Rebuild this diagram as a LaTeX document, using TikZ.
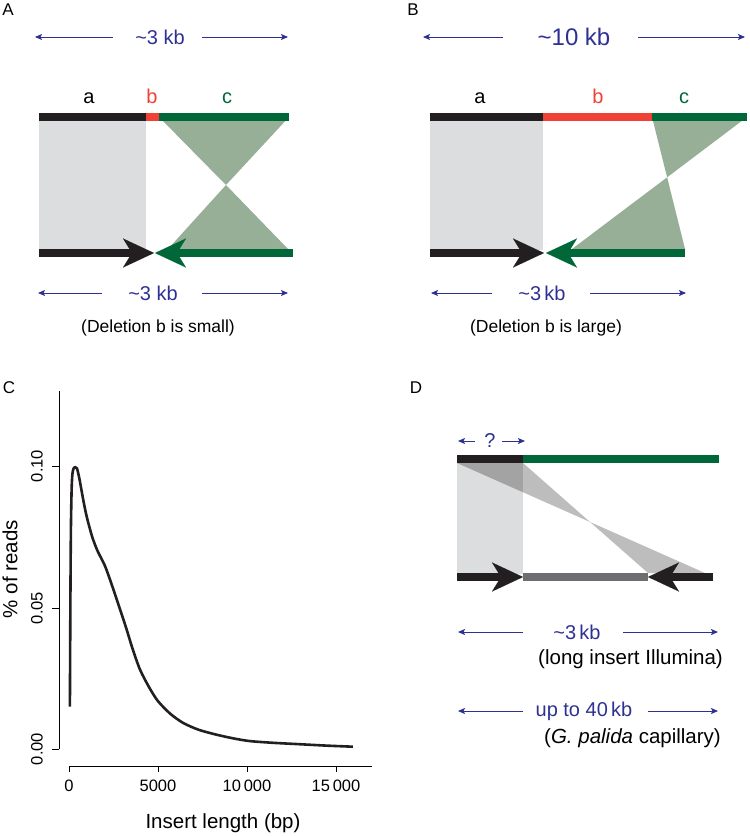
\documentclass[tikz,border=0pt]{standalone}
\usepackage{fontspec}
\setmainfont{Liberation Sans}
\usetikzlibrary{arrows.meta}
\definecolor{navy}{HTML}{2E3192}
\definecolor{barblack}{HTML}{231F20}
\definecolor{delred}{HTML}{EF4136}
\definecolor{dgreen}{HTML}{006838}
\definecolor{sage}{HTML}{97AE97}
\definecolor{lgray}{HTML}{DCDDDE}
\definecolor{mgray}{HTML}{6D6E71}
\tikzset{
  panellabel/.style={font=\fontsize{17}{20}\selectfont, inner sep=0},
  dimtext/.style={text=navy, font=\fontsize{20}{24}\selectfont, inner sep=0},
  bigdimtext/.style={text=navy, font=\fontsize{24}{28}\selectfont, inner sep=0},
  captext/.style={font=\fontsize{17.5}{21}\selectfont, inner sep=0},
  captextD/.style={font=\fontsize{20.5}{24}\selectfont, inner sep=0},
  seglabel/.style={font=\fontsize{20}{24}\selectfont, inner sep=0, anchor=base},
  dimarrow/.style={draw=navy, line width=0.9pt, -{Stealth[length=7pt,width=6pt,inset=1.5pt]}},
  bar/.style={line width=8pt},
  bigtip/.style={-{Stealth[length=31pt,width=29pt,inset=9pt,line width=0.01pt]}},
  ticklabel/.style={font=\fontsize{16.5}{20}\selectfont, inner sep=0},
  axislabel/.style={font=\fontsize{20.5}{24}\selectfont, inner sep=0},
}
\begin{document}
\begin{tikzpicture}[x=1pt,y=-1pt]
\useasboundingbox (0,0) rectangle (750,836);

% ================= Panel A =================
\node[panellabel] (labA) at (8,10) {A};
\node[dimtext] (tA1) at (160,37) {\char`\~3 kb};
\coordinate (a1l0) at (113,37); \coordinate (a1l1) at (35,37);
\coordinate (a1r0) at (202,37); \coordinate (a1r1) at (288,37);
\draw[dimarrow] (a1l0) -- (a1l1);
\draw[dimarrow] (a1r0) -- (a1r1);

\node[seglabel] (Aa) at (89,103) {a};
\node[seglabel, text=delred] (Ab) at (152,103) {b};
\node[seglabel, text=dgreen] (Ac) at (227,103) {c};

\coordinate (A0) at (39,117); \coordinate (A1) at (146,117);
\coordinate (A2) at (159,117); \coordinate (A3) at (289,117);
\coordinate (Ax) at (226,185);
\coordinate (B0) at (39,253); \coordinate (Bt) at (154,253);
\coordinate (Bg0) at (293,253); \coordinate (Bgt) at (155,253);
\coordinate (Btl) at (168,249); \coordinate (Btr) at (288,249);

\fill[lgray] (39,119) rectangle (146,250);
\fill[sage] (A2) -- (A3) -- (Ax) -- cycle;
\fill[sage] (Ax) -- (Btl) -- (Btr) -- cycle;
\draw[bar, barblack] (A0) -- (A1);
\draw[bar, delred] (A1) -- (A2);
\draw[bar, dgreen] (A2) -- (A3);
\draw[bar, barblack, bigtip] (B0) -- (Bt);
\draw[bar, dgreen, bigtip] (Bg0) -- (Bgt);

\node[dimtext] (tA2) at (153,293) {\char`\~3 kb};
\coordinate (a2l0) at (102,293); \coordinate (a2l1) at (38,293);
\coordinate (a2r0) at (202,293); \coordinate (a2r1) at (288,293);
\draw[dimarrow] (a2l0) -- (a2l1);
\draw[dimarrow] (a2r0) -- (a2r1);
\node[captext] (capA) at (158,328) {(Deletion b is small)};

% ================= Panel B =================
\node[panellabel] (labB) at (413,10) {B};
\node[bigdimtext] (tB1) at (574,37) {\char`\~10 kb};
\coordinate (b1l0) at (503,37); \coordinate (b1l1) at (423,37);
\coordinate (b1r0) at (638,37); \coordinate (b1r1) at (745,37);
\draw[dimarrow] (b1l0) -- (b1l1);
\draw[dimarrow] (b1r0) -- (b1r1);

\node[seglabel] (Ba) at (480,103) {a};
\node[seglabel, text=delred] (Bb) at (598,103) {b};
\node[seglabel, text=dgreen] (Bc) at (684,103) {c};

\coordinate (C0) at (430,117); \coordinate (C1) at (543,117);
\coordinate (C2) at (652,117); \coordinate (C3) at (747,117);
\coordinate (D0) at (430,253); \coordinate (Dt) at (544,253);
\coordinate (Dg0) at (685,253); \coordinate (Dgt) at (546,253);
\coordinate (Dtl) at (572,249); \coordinate (Dtr) at (685,249);
\coordinate (Bx) at (intersection of C2--Dtr and C3--Dtl);

\fill[lgray] (430,119) rectangle (543,250);
\fill[sage] (C2) -- (C3) -- (Bx) -- cycle;
\fill[sage] (Bx) -- (Dtl) -- (Dtr) -- cycle;
\draw[bar, barblack] (C0) -- (C1);
\draw[bar, delred] (C1) -- (C2);
\draw[bar, dgreen] (C2) -- (C3);
\draw[bar, barblack, bigtip] (D0) -- (Dt);
\draw[bar, dgreen, bigtip] (Dg0) -- (Dgt);

\node[dimtext] (tB2) at (542,293) {\char`\~3\,kb};
\coordinate (b2l0) at (492,293); \coordinate (b2l1) at (431,293);
\coordinate (b2r0) at (590,293); \coordinate (b2r1) at (686,293);
\draw[dimarrow] (b2l0) -- (b2l1);
\draw[dimarrow] (b2r0) -- (b2r1);
\node[captext] (capB) at (546,328) {(Deletion b is large)};

% ================= Panel C =================
\node[panellabel] (labC) at (9,388) {C};
\coordinate (yax0) at (59,391); \coordinate (yax1) at (59,749);
\draw[line width=1pt] (yax0) -- (yax1);
\foreach \yy/\lab in {466/0.10, 608/0.05, 749/0.00}{
  \draw[line width=1pt] (59,\yy) -- (52,\yy);
  \node[ticklabel, rotate=90] at (37,\yy) {\lab};
}
\node[axislabel, rotate=90] (ylab) at (10,569) {\% of reads};
\coordinate (xax0) at (69,766); \coordinate (xax1) at (372,766);
\draw[line width=1pt] (xax0) -- (xax1);
\foreach \xx/\lab in {69/0, 158/5000, 247/10\,000, 336/15\,000}{
  \draw[line width=1pt] (\xx,766) -- (\xx,772);
  \node[ticklabel] at (\xx,786) {\lab};
}
\node[axislabel] (xlab) at (223,823) {Insert length (bp)};

\draw[line width=2.6pt, line join=round, barblack] plot[smooth, tension=0.45] coordinates {
(69.9,706.5) (70.4,600) (70.9,530) (71.6,490) (72.4,474) (73.6,468.4) (75.0,467)
(77.0,468.4) (79.6,479.8) (83.2,499.6) (86.7,516.6) (92.1,536.5) (97.4,550.6)
(104.5,564.8) (109.8,579) (116.9,599.9) (122.2,615.8) (126.8,630) (132.9,649.8)
(140.0,669.6) (148.8,686.7) (157.7,700.8) (170.1,713.6) (183.1,722.9) (198.5,729.7)
(217.0,734.8) (234.0,738.5) (250.0,741.1) (273.0,742.8) (299.6,744.2) (326.2,745.6)
(352.8,746.7)};

% ================= Panel D =================
\node[panellabel] (labD) at (416,388) {D};
\node[dimtext] (tq) at (490,441) {?};
\coordinate (ql0) at (475,441); \coordinate (ql1) at (458,441);
\coordinate (qr0) at (502,441); \coordinate (qr1) at (525,441);
\draw[dimarrow] (ql0) -- (ql1);
\draw[dimarrow] (qr0) -- (qr1);

\coordinate (E0) at (457,459); \coordinate (E1) at (523,459); \coordinate (E2) at (719,459);
\coordinate (F0) at (457,577); \coordinate (Ft) at (523,577);
\coordinate (Fg) at (648,577); \coordinate (Fr) at (713,577);
\coordinate (Fa) at (648,573); \coordinate (Fb) at (705,573);
\coordinate (Ea) at (457,463); \coordinate (Eb) at (523,463);
\coordinate (Dx) at (intersection of Ea--Fb and Eb--Fa);

\fill[lgray] (457,461) rectangle (523,574);
\fill[black, fill opacity=0.26] (Ea) -- (Eb) -- (Dx) -- cycle;
\fill[black, fill opacity=0.26] (Dx) -- (Fa) -- (Fb) -- cycle;
\draw[bar, barblack] (E0) -- (E1);
\draw[bar, dgreen] (E1) -- (E2);
\draw[bar, mgray] (Ft) -- (Fg);
\draw[bar, barblack, bigtip] (F0) -- (Ft);
\draw[bar, barblack, bigtip] (Fr) -- (Fg);

\node[dimtext] (tD1) at (577,632) {\char`\~3\,kb};
\coordinate (d1l0) at (523,632); \coordinate (d1l1) at (458,632);
\coordinate (d1r0) at (623,632); \coordinate (d1r1) at (718,632);
\draw[dimarrow] (d1l0) -- (d1l1);
\draw[dimarrow] (d1r0) -- (d1r1);
\node[captextD, anchor=east] (capD1) at (723,659) {(long insert Illumina)};

\node[dimtext] (tD2) at (584,711) {up to 40\,kb};
\coordinate (d2l0) at (523,711); \coordinate (d2l1) at (458,711);
\coordinate (d2r0) at (648,711); \coordinate (d2r1) at (718,711);
\draw[dimarrow] (d2l0) -- (d2l1);
\draw[dimarrow] (d2r0) -- (d2r1);
\node[captextD, anchor=east] (capD2) at (721,738) {(\textit{G. palida} capillary)};
\end{tikzpicture}
\end{document}
